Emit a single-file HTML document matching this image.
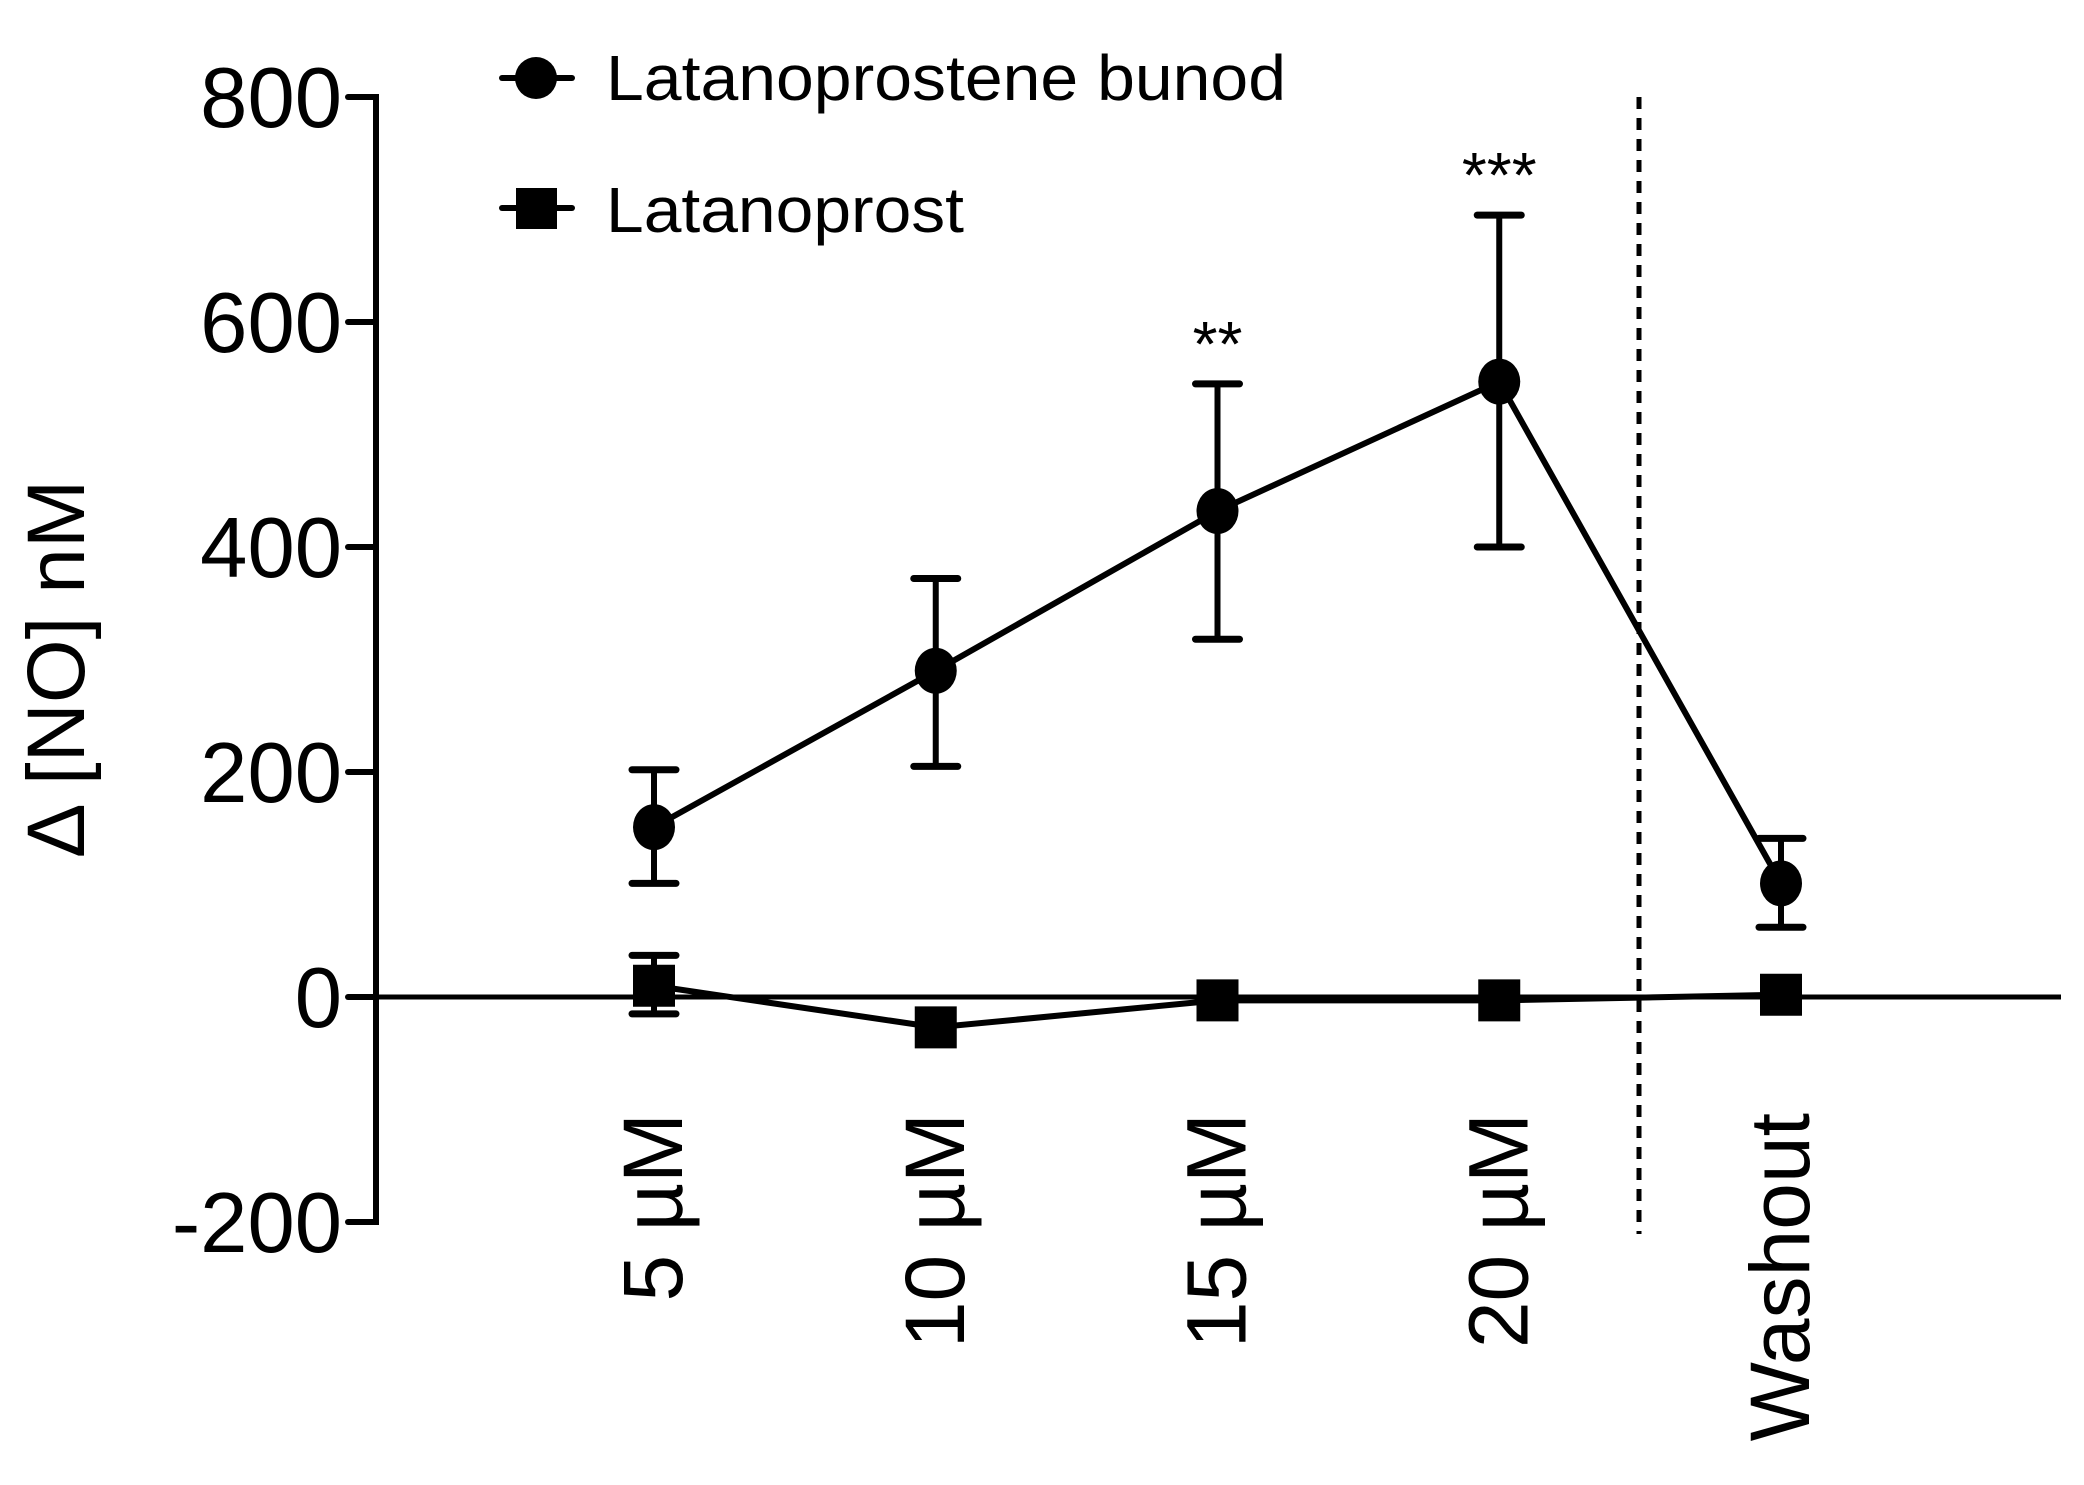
<!DOCTYPE html>
<html><head><meta charset="utf-8"><style>html,body{margin:0;padding:0;background:#fff}svg{display:block}</style></head>
<body>
<svg id="chart" width="2084" height="1485" viewBox="0 0 2084 1485" xmlns="http://www.w3.org/2000/svg" font-family="Liberation Sans, sans-serif"></svg>
<script>
const categories = ["5 \u00b5M", "10 \u00b5M", "15 \u00b5M", "20 \u00b5M", "Washout"];
const lbnValues = [151, 290, 432, 547, 101];
const lbnUpper = [202, 372, 545, 695, 141];
const lbnLower = [101, 205, 318, 400, 62];
const latValues = [10, -27, -3, -3, 2];
const latUpper = [37, -27, -3, -3, 2];
const latLower = [-15, -27, -3, -3, 2];
const yTicks = [-200, 0, 200, 400, 600, 800];
const significance = ["", "", "**", "***", ""];

const NS = "http://www.w3.org/2000/svg";
const svg = document.getElementById("chart");
const y = v => 997 - (v * 225 / 200);
const xPos = [654, 937, 1217, 1499, 1781];
const x = i => xPos[0] + i * ((xPos[4] - xPos[0]) / 4);
function mk(tag, attrs, parent) {
  const e = document.createElementNS(NS, tag);
  for (const k in attrs) e.setAttribute(k, attrs[k]);
  (parent || svg).appendChild(e);
  return e;
}
const axisX = 376;
let g = mk("g", {});


mk("line", {x1: axisX, y1: y(800) - 3, x2: axisX, y2: y(-200) + 3, stroke: "#000", "stroke-width": 6}, g);
yTicks.forEach(t => {
  mk("line", {x1: axisX - 28, y1: y(t), x2: axisX, y2: y(t), stroke: "#000", "stroke-width": 6, "stroke-linecap": "round"}, g);
  const tx = mk("text", {x: 342, y: y(t) + 30, "text-anchor": "end", "font-size": 85}, g);
  tx.textContent = t;
  
  
});
const yt = mk("text", {x: 0, y: 0, transform: "translate(84,669) rotate(-90)", "text-anchor": "middle", "font-size": 82});
yt.textContent = "\u0394 [NO] nM";


const zl = mk("line", {x1: axisX, y1: y(0), x2: 2061, y2: y(0), stroke: "#000", "stroke-width": 5});


const dl = mk("line", {x1: 1639, y1: 97, x2: 1639, y2: 1234, stroke: "#000", "stroke-width": 5, "stroke-dasharray": "12 9"});


categories.forEach((c, i) => {
  const t = mk("text", {transform: `translate(${x(i) + 28},1113) rotate(-90)`, "text-anchor": "end", "font-size": 84});
  t.textContent = c;
  
  
});
function series(vals, up, lo, shape, name) {
  const sg = mk("g", {});
  
  
  vals.forEach((v, i) => {
    if (up[i] !== lo[i]) {
      mk("line", {x1: x(i), y1: y(up[i]), x2: x(i), y2: y(lo[i]), stroke: "#000", "stroke-width": 6}, sg);
      [up[i], lo[i]].forEach(e => mk("line", {x1: x(i) - 22, y1: y(e), x2: x(i) + 22, y2: y(e), stroke: "#000", "stroke-width": 7, "stroke-linecap": "round"}, sg));
    }
  });
  mk("polyline", {points: vals.map((v, i) => x(i) + "," + y(v)).join(" "), fill: "none", stroke: "#000", "stroke-width": 6}, sg);
  vals.forEach((v, i) => {
    let m;
    if (shape === "circle") m = mk("ellipse", {cx: x(i), cy: y(v), rx: 21, ry: 23, fill: "#000"}, sg);
    else m = mk("rect", {x: x(i) - 21, y: y(v) - 21, width: 42, height: 42, fill: "#000"}, sg);
    
    
  });
}
series(latValues, latUpper, latLower, "square", "latanoprost-series");
series(lbnValues, lbnUpper, lbnLower, "circle", "latanoprostene-bunod-series");
significance.forEach((s, i) => {
  if (!s) return;
  const t = mk("text", {x: x(i), y: y(lbnUpper[i]) - 18, "text-anchor": "middle", "font-size": 64});
  t.textContent = s;
  
  
});
const lg = mk("g", {});


mk("line", {x1: 502, y1: 78, x2: 572, y2: 78, stroke: "#000", "stroke-width": 6, "stroke-linecap": "round"}, lg);
mk("ellipse", {cx: 536, cy: 78, rx: 21, ry: 21, fill: "#000"}, lg);
const l1 = mk("text", {x: 606, y: 100, "font-size": 64, textLength: 680, lengthAdjust: "spacingAndGlyphs"}, lg);
l1.textContent = "Latanoprostene bunod";


mk("line", {x1: 502, y1: 208, x2: 572, y2: 208, stroke: "#000", "stroke-width": 6, "stroke-linecap": "round"}, lg);
mk("rect", {x: 516, y: 188, width: 41, height: 41, fill: "#000"}, lg);
const l2 = mk("text", {x: 606, y: 232, "font-size": 64, textLength: 358, lengthAdjust: "spacingAndGlyphs"}, lg);
l2.textContent = "Latanoprost";


</script>
</body></html>
